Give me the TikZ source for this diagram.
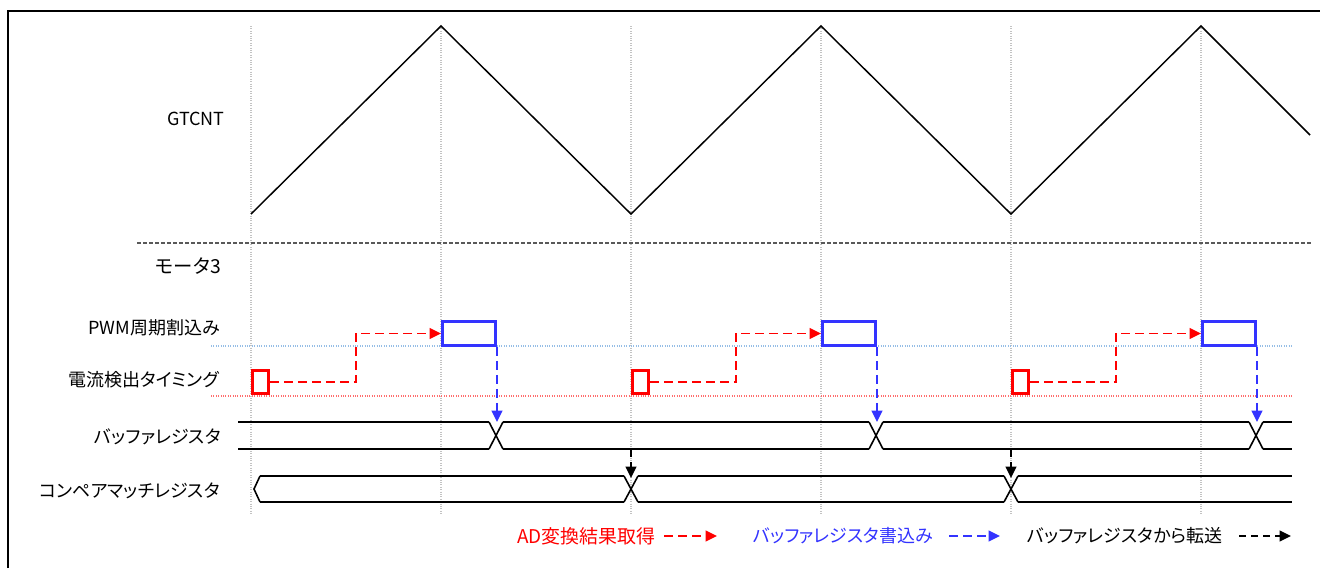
\documentclass[tikz,border=0pt]{standalone}
\usepackage{fontspec}
\setmainfont{Noto Sans CJK JP}[RawFeature=+palt]
\usepackage{tikz}
\usetikzlibrary{calc,arrows.meta}
\usepackage{xcolor}
\definecolor{pwmblue}{RGB}{51,51,255}
\definecolor{gridgray}{RGB}{195,195,195}
\definecolor{levelblue}{RGB}{150,190,230}
\definecolor{levelred}{RGB}{255,110,110}

\begin{document}
\begin{tikzpicture}[x=0.75pt,y=-0.75pt,font=\fontsize{13.5}{16}\selectfont]
    \tikzstyle{grid line}=[gridgray, densely dotted, line width=.8pt]
    \tikzstyle{level line}=[densely dotted, line width=.8pt]
    \tikzstyle{bus}=[line width=1.2pt]
    \tikzstyle{signal label}=[anchor=east, inner sep=0]
    \tikzstyle{cur box}=[draw=red, line width=2pt, minimum width=12.2pt, minimum height=17.5pt, inner sep=0]
    \tikzstyle{pwm box}=[draw=pwmblue, line width=2pt, minimum width=40pt, minimum height=18.2pt, inner sep=0]
    \tikzstyle{tri tip}=[-{Triangle[length=8.5pt,width=8pt]}]
    \tikzstyle{ad arrow}=[tri tip, red, line width=1.4pt, dash pattern=on 6.5pt off 4pt]
    \tikzstyle{buf arrow}=[tri tip, pwmblue, line width=1.4pt, dash pattern=on 6.5pt off 4pt]
    \tikzstyle{copy arrow}=[tri tip, black, line width=1.2pt, dash pattern=on 5.5pt off 3.5pt]

    \useasboundingbox (0,0) rectangle (1320,568);

    % time grid
    \foreach \x in {251,441,...,1201} \draw[grid line] (\x,26) -- (\x,515);
    \draw[level line, levelblue] (211,346) -- (1293,346);
    \draw[level line, levelred] (211,396) -- (1293,396);
    \draw[dashed, gray!70!black, line width=.9pt, dash pattern=on 3pt off 1.5pt] (137,243) -- (1311,243);

    % counter
    \draw[line width=1.1pt] (251,214) -- (441,26) -- (631,214) -- (821,26) -- (1011,214) -- (1201,26) -- (1310,135);

    % signal names
    \node[signal label] (gtcnt) at (225,119) {GTCNT};
    \node[signal label, font=\fontsize{14.5}{17}\selectfont] (motor) at (221,266) {モータ3};
    \node[signal label] (pwmlbl) at (220,328) {PWM周期割込み};
    \node[signal label] (curlbl) at (219,380) {電流検出タイミング};
    \node[signal label] (buflbl) at (221,437) {バッファレジスタ};
    \node[signal label] (cmplbl) at (220,491) {コンペアマッチレジスタ};

    % sampling, interrupt and write
    \foreach \i/\x in {1/251,2/631,3/1011}{
        \node[cur box] (cur\i) at (\x+9.5,382) {};
        \node[pwm box] (pwm\i) at (\x+218,333.5) {};
        \coordinate (bx\i) at (\x+245,422);
        \draw[ad arrow] (cur\i.east) -- ++(86,0) |- (pwm\i.west);
        \draw[buf arrow] (pwm\i.south east) -- (pwm\i.south east |- bx\i);
    }

    % buffer register
    \foreach \a/\b in {238/489,503/869,883/1249,1263/1292}
        \draw[bus] (\a,422) -- (\b,422) (\a,449) -- (\b,449);
    \foreach \c in {496,876,1256}
        \draw[bus] (\c-7,422) -- (\c+7,449) (\c-7,449) -- (\c+7,422);

    % compare match register
    \draw[bus] (260,476) -- (254,489) -- (260,502);
    \foreach \a/\b in {260/624,638/1004,1018/1292}
        \draw[bus] (\a,476) -- (\b,476) (\a,502) -- (\b,502);
    \foreach \c in {631,1011}
        \draw[bus] (\c-7,476) -- (\c+7,502) (\c-7,502) -- (\c+7,476);

    % transfer
    \foreach \i/\x in {1/631,2/1011}{
        \coordinate (cs\i) at (\x,450);
        \coordinate (ce\i) at (\x,478);
        \draw[copy arrow] (cs\i) -- (ce\i);
    }

    % legend
    \node[anchor=west, inner sep=0, text=red, font=\fontsize{14.2}{16}\selectfont] (adtxt) at (517,536) {AD変換結果取得};
    \coordinate (ads) at (664,536);
    \coordinate (ade) at (717,536);
    \draw[ad arrow] (ads) -- (ade);
    \node[anchor=west, inner sep=0, text=pwmblue] (buftxt) at (753,536) {バッファレジスタ書込み};
    \coordinate (bufs) at (949,536);
    \coordinate (bufe) at (1000,536);
    \draw[buf arrow] (bufs) -- (bufe);
    \node[anchor=west, inner sep=0] (cptxt) at (1027,536) {バッファレジスタから転送};
    \coordinate (cps) at (1239,536);
    \coordinate (cpe) at (1291,536);
    \draw[copy arrow] (cps) -- (cpe);

    % frame
    \draw[line width=1.7pt] (8,568) -- (8,11) -- (1320,11);
\end{tikzpicture}
\end{document}
